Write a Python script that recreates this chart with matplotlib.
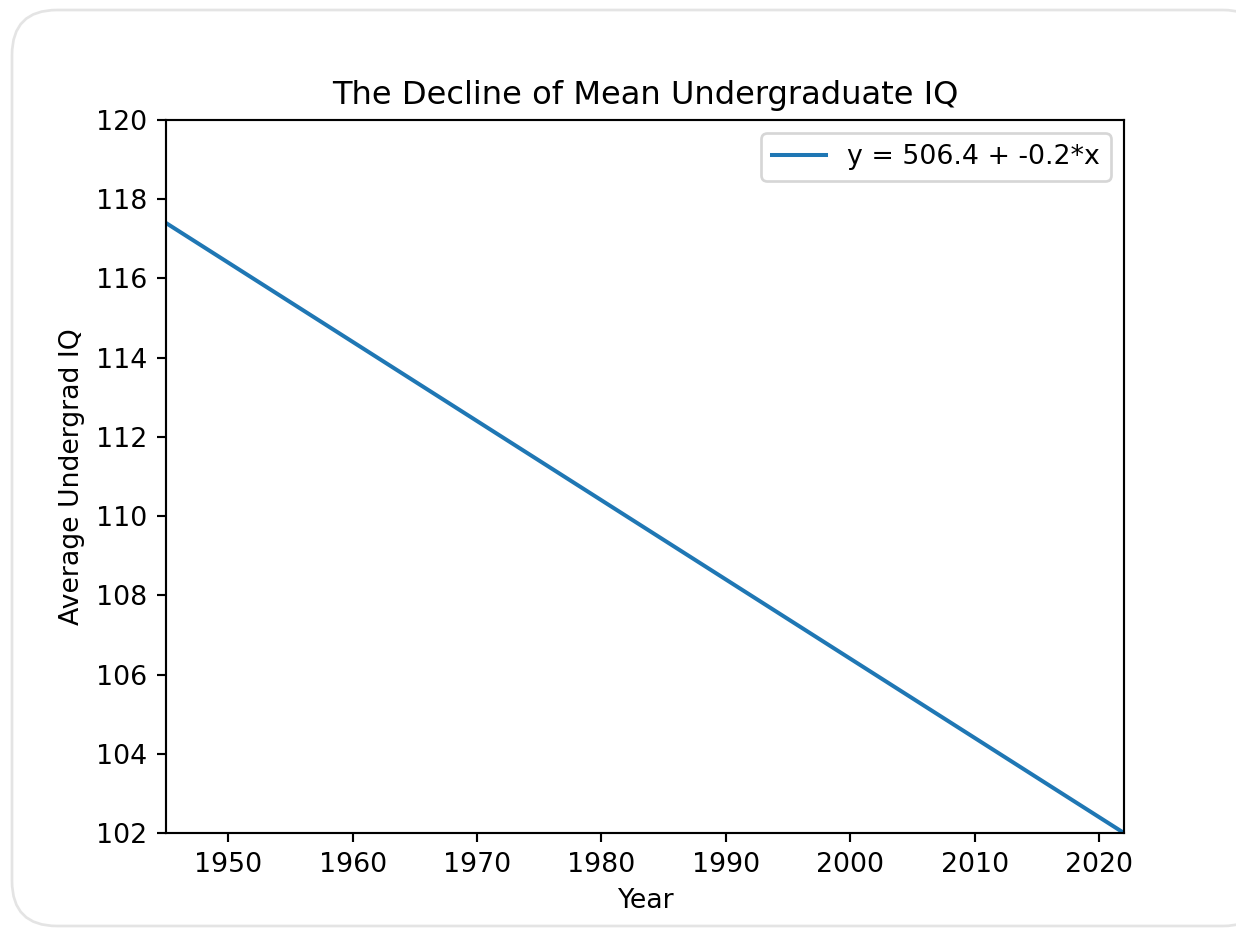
import matplotlib
matplotlib.use("Agg")
import matplotlib.pyplot as plt
from matplotlib.patches import FancyBboxPatch

years = [1945, 2022]
iq = [117.4, 102.0]
label = 'y = 506.4 + -0.2*x'

W, H, DPI = 1236, 933, 193
fig = plt.figure(figsize=(W / DPI, H / DPI), dpi=DPI)

# rounded card behind the chart (screenshot frame)
card = FancyBboxPatch((12, 7), W + 20, 916, boxstyle="round,pad=0,rounding_size=45",
                      transform=None, facecolor='white', edgecolor='#e4e4e4',
                      linewidth=1.0, zorder=-10)
fig.patches.append(card)

ax = fig.add_axes([166 / W, 1 - 833 / H, (1124 - 166) / W, (833 - 120) / H])
ax.plot(years, iq, label=label)
ax.set_xlim(1945, 2022)
ax.set_ylim(102, 120)
ax.set_xticks(range(1950, 2021, 10))
ax.set_yticks(range(102, 121, 2))
ax.set_title('The Decline of Mean Undergraduate IQ')
ax.set_xlabel('Year')
ax.set_ylabel('Average Undergrad IQ')
ax.legend(loc='upper right')

fig.savefig('out.png', dpi=DPI)
